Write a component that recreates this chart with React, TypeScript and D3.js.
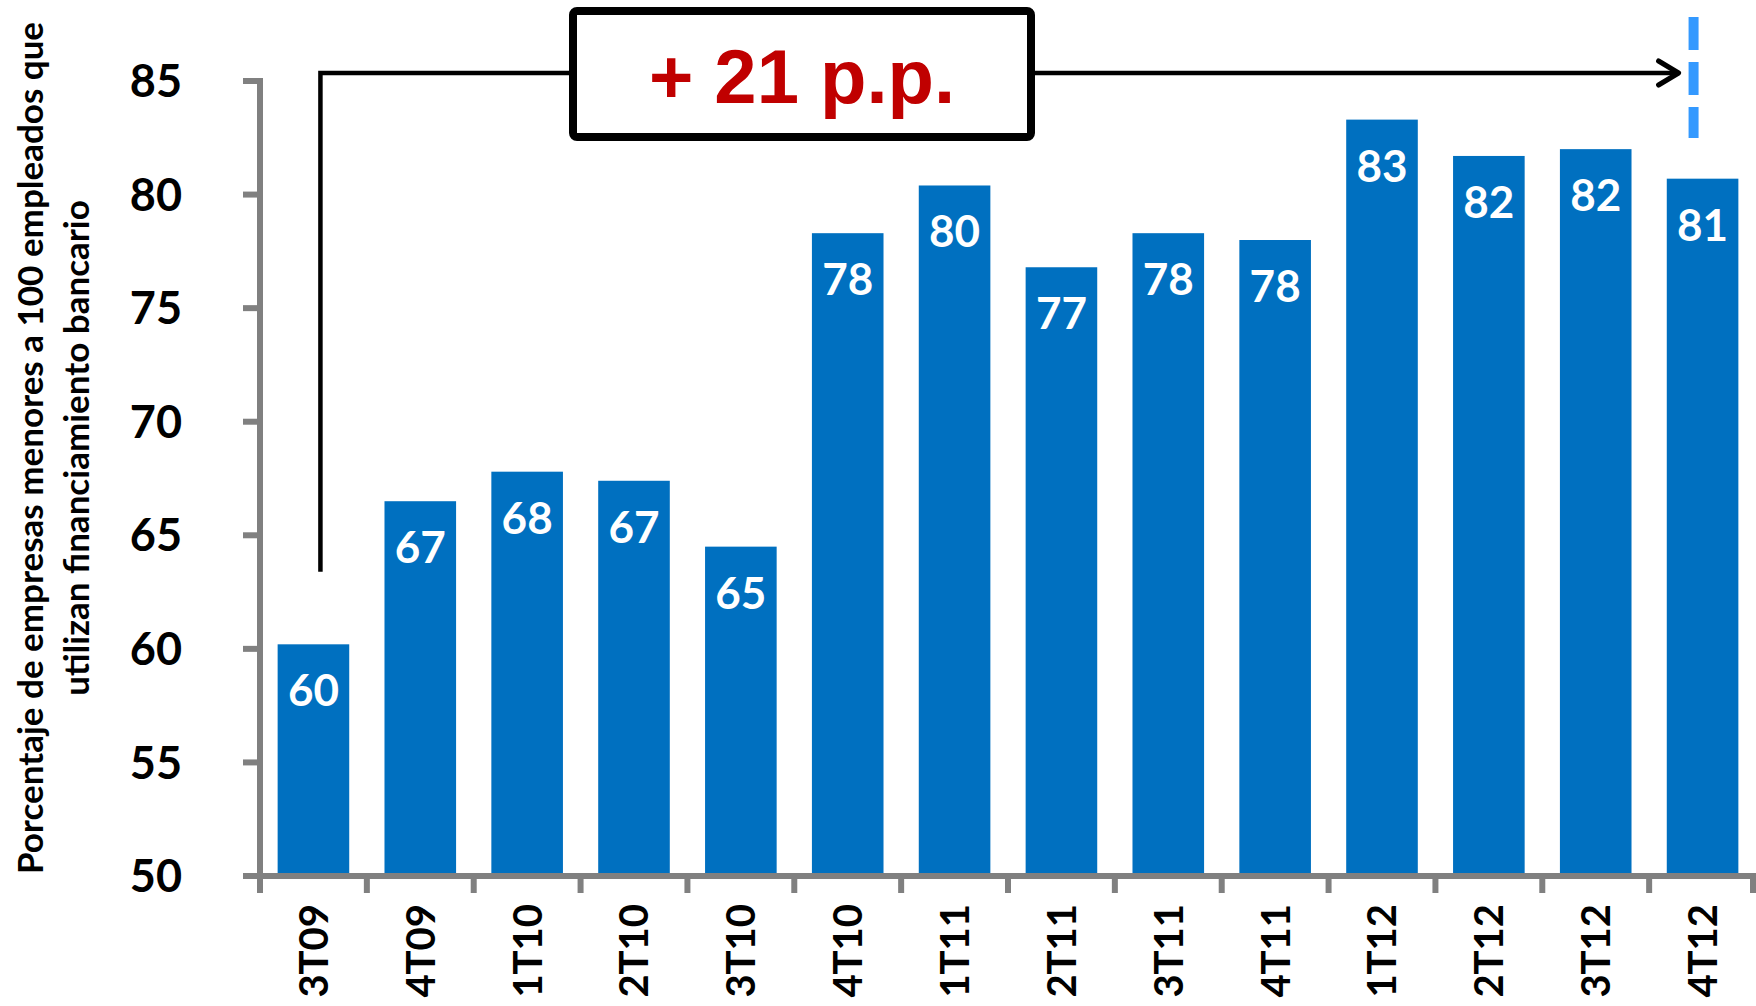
import React from "react";
import * as d3 from "d3";

const categories = ["3T09", "4T09", "1T10", "2T10", "3T10", "4T10", "1T11", "2T11", "3T11", "4T11", "1T12", "2T12", "3T12", "4T12"];
const values = [60.2, 66.5, 67.8, 67.4, 64.5, 78.3, 80.4, 76.8, 78.3, 78.0, 83.3, 81.7, 82.0, 80.7];
const barLabels = [60, 67, 68, 67, 65, 78, 80, 77, 78, 78, 83, 82, 82, 81];
const yTicks = [50, 55, 60, 65, 70, 75, 80, 85];
const yTitle = ["Porcentaje de empresas menores a 100 empleados que", "utilizan financiamiento bancario"];
const annotationText = "+ 21 p.p.";
const annotationFrom = "3T09";
const annotationTo = "4T12";

const W = 1756;
const H = 1006;
const FONT = "Lato, 'Open Sans', sans-serif";

export default function App() {
  const x = d3.scaleBand<string>().domain(categories).range([260, 1756]).paddingInner(0.33).paddingOuter(0.165);
  const y = d3.scaleLinear().domain([50, 85]).range([876, 81]);
  const axisColor = "#808080";
  const step = x.step();
  const boundaries = d3.range(categories.length + 1).map((i) => 260 + i * step);

  const lineY = 73;
  const startX = (x(annotationFrom) as number) + x.bandwidth() / 2 + 7;
  const startY = y(63.4);
  const endX = (x(annotationTo) as number) + x.bandwidth() / 2 - 24;
  const boxX0 = 573, boxX1 = 1031, boxY0 = 11, boxY1 = 137;
  const dashX = (x(annotationTo) as number) + x.bandwidth() / 2 - 9;

  return (
    <div style={{ position: "absolute", left: 0, top: 0 }}>
      <svg width={W} height={H} style={{ display: "block", background: "#fff" }}>
        {/* bars */}
        {categories.map((c, i) => (
          <rect key={c} x={x(c)} y={y(values[i])} width={x.bandwidth()} height={y(50) - y(values[i])} fill="#0070C0" />
        ))}
        {/* bar labels */}
        {categories.map((c, i) => (
          <text key={"l" + c} x={(x(c) as number) + x.bandwidth() / 2} y={y(values[i]) + 62} textAnchor="middle"
            fontFamily={FONT} fontWeight="bold" fontSize={44} fill="#fff">{barLabels[i]}</text>
        ))}
        {/* y axis */}
        <line x1={260} x2={260} y1={y(85) - 3} y2={y(50) + 3} stroke={axisColor} strokeWidth={6} />
        {yTicks.map((t) => (
          <g key={t}>
            <line x1={243} x2={260} y1={y(t)} y2={y(t)} stroke={axisColor} strokeWidth={6} />
            <text x={182} y={y(t)} dy="0.36em" textAnchor="end" fontFamily={FONT} fontWeight="bold" fontSize={45} fill="#000">{t}</text>
          </g>
        ))}
        {/* x axis */}
        <line x1={257} x2={W} y1={y(50)} y2={y(50)} stroke={axisColor} strokeWidth={6} />
        {boundaries.map((b, i) => (
          <line key={"t" + i} x1={Math.min(b, W - 3)} x2={Math.min(b, W - 3)} y1={y(50)} y2={y(50) + 17} stroke={axisColor} strokeWidth={6} />
        ))}
        {categories.map((c) => {
          const cx = (x(c) as number) + x.bandwidth() / 2;
          return (
            <text key={"x" + c} transform={`translate(${cx},904) rotate(-90)`} dy="0.36em" textAnchor="end"
              fontFamily={FONT} fontWeight="bold" fontSize={40} fill="#000">{c}</text>
          );
        })}
        {/* y title */}
        {yTitle.map((t, i) => (
          <text key={"yt" + i} transform={`translate(${30 + i * 46},448) rotate(-90)`} dy="0.36em" textAnchor="middle"
            fontFamily={FONT} fontWeight="bold" fontSize={35} fill="#000">{t}</text>
        ))}
        {/* annotation connector */}
        <polyline points={`${startX},${startY} ${startX},${lineY} ${boxX0},${lineY}`} fill="none" stroke="#000" strokeWidth={4.5} />
        <line x1={boxX1} x2={endX} y1={lineY} y2={lineY} stroke="#000" strokeWidth={4.5} />
        <polyline points={`${endX - 20},${lineY - 12} ${endX},${lineY} ${endX - 20},${lineY + 12}`} fill="none" stroke="#000" strokeWidth={5} strokeLinecap="round" strokeLinejoin="round" />
        <rect x={boxX0} y={boxY0} width={boxX1 - boxX0} height={boxY1 - boxY0} rx={4} fill="#fff" stroke="#000" strokeWidth={8} />
        <text x={(boxX0 + boxX1) / 2} y={103} textAnchor="middle" fontFamily="'Liberation Sans', Arial, sans-serif" fontWeight="bold" fontSize={76} fill="#C00000">{annotationText}</text>
        {/* dashed marker */}
        <line x1={dashX} x2={dashX} y1={17} y2={138} stroke="#3399FF" strokeWidth={10} strokeDasharray="33 12" />
      </svg>
    </div>
  );
}
